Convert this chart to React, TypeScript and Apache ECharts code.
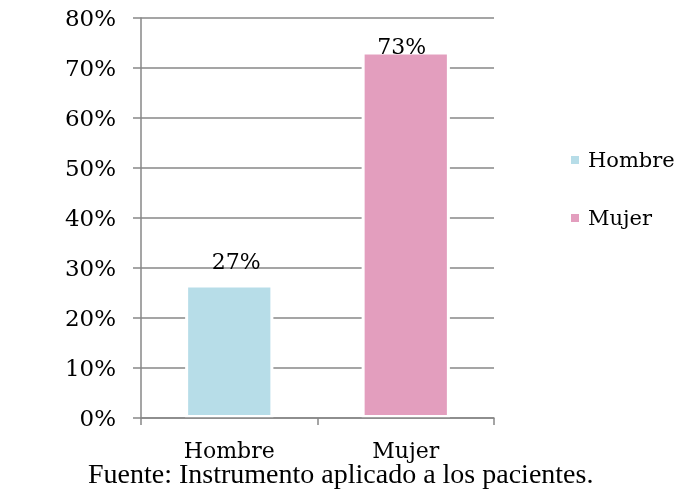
import React, { useEffect, useRef } from "react";
import * as echarts from "echarts";

const categories = ["Hombre", "Mujer"];
const seriesNames = ["Hombre", "Mujer"];
const values = [26.7, 73.3];
const labelTexts = ["27%", "73%"];
const colors = ["#b7dde8", "#e39ebe"];
const labelOffsets = [[7, -7], [-4, 11]];
const yTicks = { min: 0, max: 80, interval: 10 };
const footer = "Fuente: Instrumento aplicado a los pacientes.";

const FONT = "'DejaVu Serif', serif";
const GRAY = "#878787";

export default function App() {
  const ref = useRef<HTMLDivElement>(null);
  useEffect(() => {
    if (!ref.current) return;
    const chart = echarts.init(ref.current, undefined, { renderer: "svg" });
    const series = seriesNames.map((name, i) => ({
      name,
      type: "bar",
      stack: "total",
      barWidth: "50%",
      itemStyle: { color: colors[i], borderColor: "#ffffff", borderWidth: 3 },
      data: categories.map((_, j) =>
        j === i
          ? {
              value: values[j],
              label: {
                show: true,
                position: "top",
                offset: labelOffsets[j],
                formatter: labelTexts[j],
                fontFamily: FONT,
                fontSize: 22,
                color: "#000",
              },
            }
          : null
      ),
    }));
    chart.setOption({
      animation: false,
      textStyle: { fontFamily: FONT },
      grid: { left: 141, right: 188, top: 18, bottom: 73, containLabel: false },
      legend: {
        orient: "vertical",
        left: 564,
        top: 144,
        itemWidth: 10,
        itemHeight: 10,
        itemGap: 36,
        icon: "rect",
        data: seriesNames,
        textStyle: {
          fontFamily: FONT,
          fontSize: 21,
          color: "#000",
          lineHeight: 22,
          padding: [0, 0, 0, 3],
        },
      },
      xAxis: {
        type: "category",
        data: categories,
        z: 5,
        axisLine: { lineStyle: { color: GRAY, width: 1.5 } },
        axisTick: { show: true, length: 7, lineStyle: { color: GRAY, width: 1.5 } },
        axisLabel: { fontFamily: FONT, fontSize: 22, color: "#000", margin: 21 },
      },
      yAxis: {
        type: "value",
        min: yTicks.min,
        max: yTicks.max,
        interval: yTicks.interval,
        axisLine: { show: true, lineStyle: { color: GRAY, width: 1.5 } },
        axisTick: { show: true, length: 8, lineStyle: { color: GRAY, width: 1.5 } },
        splitLine: { show: true, lineStyle: { color: GRAY, width: 1.5 } },
        axisLabel: {
          fontFamily: FONT,
          fontSize: 23,
          color: "#000",
          margin: 25,
          formatter: "{value}%",
        },
      },
      graphic: [
        {
          type: "text",
          left: 88,
          top: 459,
          style: {
            text: footer,
            fontFamily: "'Liberation Serif', 'Times New Roman', serif",
            fontSize: 28,
            fill: "#000",
          },
        },
      ],
      series,
    });
    return () => chart.dispose();
  }, []);
  return (
    <div
      ref={ref}
      style={{ position: "fixed", left: 0, top: 0, width: 682, height: 491 }}
    />
  );
}
